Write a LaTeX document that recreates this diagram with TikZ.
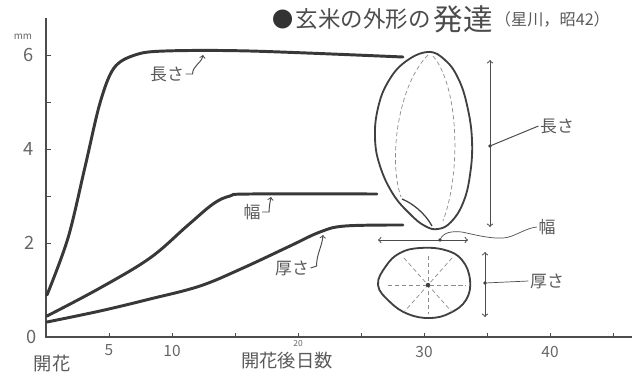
\documentclass[tikz,border=0pt]{standalone}
\usepackage{xcolor}
\usepackage{fontspec}
\newfontfamily\jp{Noto Sans CJK JP}
\usetikzlibrary{positioning}

\tikzset{
  curve/.style={line width=2.1pt, draw=black!78, line cap=round, line join=round},
  grain/.style={line width=1.3pt, draw=black!75},
  inner/.style={densely dashed, line width=0.5pt, draw=black!45},
  dim/.style={<->, line width=0.7pt, draw=black!70},
  leader/.style={line width=0.7pt, draw=black!70},
  lbl/.style={font=\jp\fontsize{12}{12}\selectfont, text=black!65, inner sep=1pt},
  num/.style={font=\jp\fontsize{13}{13}\selectfont, text=black!60, inner sep=0pt}
}

\begin{document}
\begin{tikzpicture}[x=0.025cm, y=-0.025cm]
            \useasboundingbox (0,0) rectangle (632,377);

            % axes
            \draw[line width=0.9pt, black!70] (46,18) -- (46,337) -- (632,337);
            \foreach \d in {5,10,...,45} \draw[line width=0.6pt, black!70] ({46+12.6*\d},337) -- ++(0,-4);
            \foreach \v in {2,...,6} \draw[line width=0.6pt, black!70] (46,{337-47*\v}) -- ++(5,0);

            \node[num] (ysix) at (29,55) {6};
            \node[num] (yfour) at (29,149) {4};
            \node[num] (ytwo) at (30,243) {2};
            \node[num] (yzero) at (32,337) {0};
            \node[num, font=\jp\fontsize{7}{7}\selectfont] (unit) at (23,37) {mm};

            \node[num, font=\jp\fontsize{11}{11}\selectfont] (xfive) at (109,350) {5};
            \node[num, font=\jp\fontsize{11}{11}\selectfont] (xten) at (172,351) {10};
            \node[num, font=\jp\fontsize{6}{6}\selectfont] (xtwenty) at (298,343) {20};
            \node[num, font=\jp\fontsize{11}{11}\selectfont] (xthirty) at (424,352) {30};
            \node[num, font=\jp\fontsize{11}{11}\selectfont] (xforty) at (550,352) {40};
            \node[lbl, font=\jp\fontsize{13}{13}\selectfont] (bloom) at (52,364) {開花};
            \node[lbl, font=\jp\fontsize{13}{13}\selectfont] (days) at (287,361) {開花後日数};

            % title
            \node[font=\jp\fontsize{15}{15}\selectfont, text=black!80, inner sep=0pt] (bullet) at (283,19) {●};
            \node[font=\jp\fontsize{16}{16}\selectfont, text=black!70, inner sep=0pt, right=1pt of bullet] (title) {玄米の外形の};
            \node[font=\jp\fontsize{21}{21}\selectfont, text=black!70, inner sep=0pt, right=2pt of title] (develop) {発達};
            \node[font=\jp\fontsize{11.5}{11.5}\selectfont, text=black!65, inner sep=0pt, right=1pt of develop] (source) {（星川，昭42）};

            % growth curves
            \draw[curve] plot[smooth, tension=0.55] coordinates {(47,295) (68,238) (85,167) (100,103) (114,68) (135,55) (165,51) (250,51) (403,57)};
            \draw[curve] plot[smooth, tension=0.6] coordinates {(47,316) (100,288) (150,258) (187,226) (213,204) (230,196) (250,194) (377,194)};
            \draw[curve] plot[smooth, tension=0.6] coordinates {(47,322) (100,311) (150,299) (200,286) (243,268) (290,246) (320,232) (345,226) (403,225)};

            \node[lbl] (lenlab) at (167,74) {長さ};
            \node[lbl] (widlab) at (252,212) {幅};
            \node[lbl] (thilab) at (292,268) {厚さ};
            \coordinate (lentip) at (203,55);
            \coordinate (widtip) at (271,197);
            \coordinate (thitip) at (323,235);
            \draw[leader, ->] (lenlab.east) -- ++(7,0) to[out=90, in=-100] (lentip);
            \draw[leader, ->] (widlab.east) -- ++(7,0) to[out=90, in=-100] (widtip);
            \draw[leader, ->] (thilab.east) -- ++(6,-2) to[out=90, in=-95] (thitip);

            % grain, side view
            \draw[grain] plot[smooth cycle, tension=0.7] coordinates {(428,52) (445,60) (458,78) (467,105) (472,140) (470,175) (463,203) (451,222) (438,229) (425,226) (410,214) (393,194) (380,166) (375,138) (378,108) (388,82) (405,62)};
            \draw[grain, line width=0.9pt] (402,199) .. controls (412,203) and (425,213) .. (432,226);
            \draw[inner] (428,55) .. controls (398,85) and (388,160) .. (401,197);
            \draw[inner] (433,56) .. controls (458,85) and (462,170) .. (443,221);

            % grain, cross section
            \draw[grain] plot[smooth cycle, tension=0.7] coordinates {(378,285) (386,266) (400,253) (420,248) (445,250) (462,260) (470,280) (466,300) (450,313) (430,318) (408,314) (390,302)};
            \coordinate (core) at (428,285);
            \draw[inner] (388,285) -- (466,285);
            \draw[inner] (428,256) -- (428,314);
            \draw[inner] (404,258) -- (452,312);
            \draw[inner] (452,258) -- (404,312);
            \fill[black!75] (core) circle (2.2);

            % dimensions
            \coordinate (lentop) at (490,60);
            \coordinate (lenbot) at (490,227);
            \coordinate (lenmid) at (490,146);
            \draw[dim] (lentop) -- (lenbot);
            \fill[black!75] (lenmid) circle (1.8);
            \node[lbl] (lenname) at (557,126) {長さ};
            \draw[leader] (lenmid) -- (lenname.west);

            \coordinate (widleft) at (378,240);
            \coordinate (widright) at (468,240);
            \coordinate (widmid) at (440,240);
            \draw[dim] (widleft) -- (widright);
            \fill[black!75] (widmid) circle (1.8);
            \node[lbl] (widname) at (547,227) {幅};
            \draw[leader, line width=0.5pt] (widmid) .. controls (443,232) and (452,231) .. (462,232) .. controls (480,236) and (500,241) .. (512,236) .. controls (522,232) and (528,228) .. (widname.west);

            \coordinate (thitop) at (485,252);
            \coordinate (thibot) at (485,317);
            \coordinate (thimid) at (485,283);
            \draw[dim] (thitop) -- (thibot);
            \fill[black!75] (thimid) circle (1.8);
            \node[lbl] (thiname) at (547,281) {厚さ};
            \draw[leader, line width=0.5pt] (thimid) -- (thiname.west);
        \end{tikzpicture}
\end{document}
